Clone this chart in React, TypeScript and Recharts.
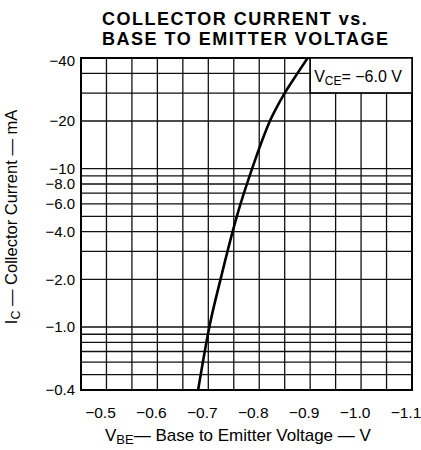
import React from 'react';
import { LineChart, Line, XAxis, YAxis, ReferenceLine, ReferenceArea, Label } from 'recharts';

// |VBE| in volts and |IC| in mA (both plotted as negative values)
const vbe = [0.680, 0.702, 0.724, 0.756, 0.786, 0.821, 0.850, 0.875, 0.895];
const ic = [0.4, 1.0, 2.0, 5.0, 10, 20, 30, 40, 50];

// grid and tick values
const xGrid = [0.5, 0.55, 0.6, 0.65, 0.7, 0.75, 0.8, 0.85, 0.9, 0.95, 1.0, 1.05];
const yGrid = [0.5, 0.6, 0.7, 0.8, 0.9, 1, 2, 3, 4, 5, 6, 7, 8, 9, 10, 20, 30, 40];
const xTicks = [0.5, 0.6, 0.7, 0.8, 0.9, 1.0, 1.1];
const yTicks = [0.4, 1, 2, 4, 6, 8, 10, 20, 40];

// corner box holding the test condition (VBE 0.9..1.1, IC 30..50)
const boxX = [0.9, 1.1];
const boxY = [30, 50];

const FONT = '"Liberation Sans", Arial, sans-serif';
const PLOT_TOP = 58;
const PLOT_LEFT = 81;
const MINUS = '\u2212';

const chartData = vbe.map((v, i) => ({ vbe: v, ic: ic[i] }));

const fmtY = (v: number) => MINUS + (v < 10 ? v.toFixed(1) : String(v));

// the -40 label sits at the top edge of the plot on the original sheet
const YTick = (props: any) => {
  const { y, payload } = props;
  const ty = payload.value === 40 ? PLOT_TOP + 3 : y;
  return (
    <text x={PLOT_LEFT - 6} y={ty} dy="0.36em" textAnchor="end" fontFamily={FONT} fontSize={15} fill="#000">
      {fmtY(payload.value)}
    </text>
  );
};

const XTick = (props: any) => {
  const { x, y, payload } = props;
  return (
    <text x={x - 6} y={y + 14} dy="0.36em" textAnchor="middle" fontFamily={FONT} fontSize={15.5} fill="#000">
      {MINUS + payload.value.toFixed(1)}
    </text>
  );
};

const XTitle = () => (
  <text x={105} y={441} fontFamily={FONT} fontSize={17} fill="#000">
    <tspan>V</tspan>
    <tspan fontSize={13} dy={3}>BE</tspan>
    <tspan dy={-3}>{'\u2014 Base to Emitter Voltage \u2014 V'}</tspan>
  </text>
);

const YTitle = () => (
  <text x={0} y={0} transform="translate(17, 217) rotate(-90)" textAnchor="middle" fontFamily={FONT} fontSize={16.5} fill="#000">
    <tspan>I</tspan>
    <tspan fontSize={12.5} dy={3}>C</tspan>
    <tspan dy={-3}>{' \u2014 Collector Current \u2014 mA'}</tspan>
  </text>
);

const LegendText = (props: any) => {
  const { viewBox } = props;
  return (
    <text x={viewBox.x + 4} y={viewBox.y + viewBox.height / 2 + 6} fontFamily={FONT} fontSize={16} fill="#000">
      <tspan>V</tspan>
      <tspan fontSize={12} dy={3}>CE</tspan>
      <tspan dy={-3}>{'= ' + MINUS + '6.0  V'}</tspan>
    </text>
  );
};

export default function App() {
  return (
    <div style={{ position: 'absolute', left: 0, top: 0, width: 421, height: 450, background: '#fff' }}>
      <div
        style={{
          position: 'absolute',
          left: 102,
          top: 9,
          fontFamily: FONT,
          fontWeight: 'bold',
          fontSize: 18,
          lineHeight: '20px',
          letterSpacing: 1.5,
          color: '#000',
          whiteSpace: 'nowrap',
        }}
      >
        <div>COLLECTOR CURRENT vs.</div>
        <div>BASE TO EMITTER VOLTAGE</div>
      </div>
      <LineChart width={421} height={450} data={chartData} margin={{ top: PLOT_TOP, right: 9, left: 0, bottom: 0 }}>
        <XAxis
          dataKey="vbe"
          type="number"
          domain={[0.45, 1.1]}
          allowDataOverflow
          ticks={xTicks}
          interval={0}
          tick={<XTick />}
          tickLine={false}
          axisLine={false}
          height={60}
        >
          <Label content={<XTitle />} />
        </XAxis>
        <YAxis
          dataKey="ic"
          type="number"
          scale="log"
          domain={[0.4, 50]}
          allowDataOverflow
          ticks={yTicks}
          interval={0}
          tick={<YTick />}
          tickLine={false}
          axisLine={false}
          width={PLOT_LEFT}
        >
          <Label content={<YTitle />} />
        </YAxis>
        {/* grid lines stop at the corner box */}
        {xGrid.map((v) =>
          v > boxX[0] ? (
            <ReferenceLine
              key={'x' + v}
              segment={[{ x: v, y: 0.4 }, { x: v, y: boxY[0] }]}
              stroke="#111"
              strokeWidth={1.3}
            />
          ) : (
            <ReferenceLine key={'x' + v} x={v} stroke="#111" strokeWidth={1.3} />
          )
        )}
        {yGrid.map((v) =>
          v > boxY[0] ? (
            <ReferenceLine
              key={'y' + v}
              segment={[{ x: 0.45, y: v }, { x: boxX[0], y: v }]}
              stroke="#111"
              strokeWidth={1.3}
            />
          ) : (
            <ReferenceLine key={'y' + v} y={v} stroke="#111" strokeWidth={1.3} />
          )
        )}
        <ReferenceArea x1={0.45} x2={1.1} y1={0.4} y2={50} fill="none" stroke="#000" strokeWidth={2} />
        <ReferenceArea x1={boxX[0]} x2={boxX[1]} y1={boxY[0]} y2={boxY[1]} fill="#fff" fillOpacity={1} stroke="#000" strokeWidth={1.5}>
          <Label content={<LegendText />} />
        </ReferenceArea>
        <Line
          type="monotone"
          dataKey="ic"
          stroke="#000"
          strokeWidth={2.6}
          dot={false}
          isAnimationActive={false}
        />
      </LineChart>
    </div>
  );
}
